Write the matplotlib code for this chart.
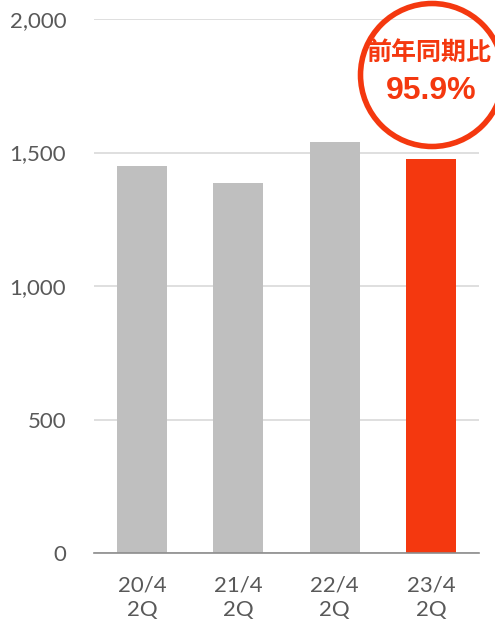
import matplotlib.pyplot as plt
from matplotlib.patches import Circle

# Données
categories = ['20/4\n2Q', '21/4\n2Q', '22/4\n2Q', '23/4\n2Q']
valeurs = [1450, 1387, 1540, 1477]
couleurs = ['#bfbfbf', '#bfbfbf', '#bfbfbf', '#f4380f']
yticks = [0, 500, 1000, 1500, 2000]
ratio_label = '前年同期比'
ratio_value = '95.9%'

rouge = '#f4380f'
gris_texte = '#595959'

fig = plt.figure(figsize=(4.95, 6.23), dpi=100)
ax = fig.add_axes([94 / 495, 70 / 623, 385 / 495, 534 / 623])

x = range(len(categories))
ax.bar(x, valeurs, width=0.52, color=couleurs, zorder=2)

ax.set_xlim(-0.5, 3.5)
ax.set_ylim(0, 2000)
ax.set_yticks(yticks)
ax.set_yticklabels([f'{v:,}' for v in yticks])
ax.set_xticks(list(x))
ax.set_xticklabels(categories, linespacing=1.28)

ax.grid(axis='y', color='#d9d9d9', linewidth=1.2, zorder=0)
for s in ['top', 'right', 'left']:
    ax.spines[s].set_visible(False)
ax.spines['bottom'].set_color('#8c8c8c')
ax.spines['bottom'].set_linewidth(1.2)
ax.tick_params(length=0, labelsize=16, labelcolor=gris_texte)
ax.tick_params(axis='y', pad=20)
ax.tick_params(axis='x', pad=16)
for t in ax.get_xticklabels() + ax.get_yticklabels():
    t.set_family('Lato')

# Cercle d'annotation
cercle = Circle((432 / 100, (623 - 75) / 100), 0.715, transform=fig.dpi_scale_trans,
                fill=False, edgecolor=rouge, linewidth=4, clip_on=False)
fig.add_artist(cercle)
fig.text(429 / 495, 1 - 53 / 623, ratio_label, ha='center', va='center',
         fontsize=18, fontweight='bold', color=rouge,
         family=['Noto Sans CJK JP', 'DejaVu Sans'])
fig.text(431 / 495, 1 - 91 / 623, ratio_value, ha='center', va='center',
         fontsize=23, fontweight='bold', color=rouge, family='Liberation Sans')

fig.savefig('out.png', dpi=100)
